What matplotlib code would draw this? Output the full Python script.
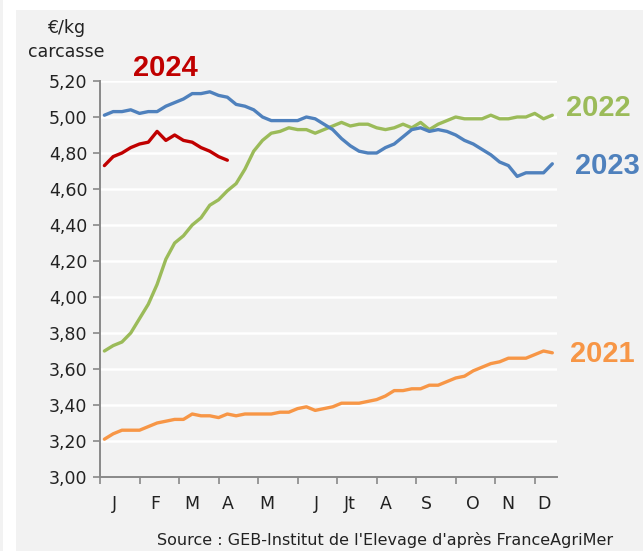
import matplotlib.pyplot as plt
from matplotlib.patches import Rectangle
import numpy as np

# weekly prices, euro/kg carcass
weeks = np.arange(1, 53)

price_2021 = [3.21, 3.24, 3.26, 3.26, 3.26, 3.28, 3.30, 3.31, 3.32, 3.32, 3.35, 3.34, 3.34,
              3.33, 3.35, 3.34, 3.35, 3.35, 3.35, 3.35, 3.36, 3.36, 3.38, 3.39, 3.37, 3.38,
              3.39, 3.41, 3.41, 3.41, 3.42, 3.43, 3.45, 3.48, 3.48, 3.49, 3.49, 3.51, 3.51,
              3.53, 3.55, 3.56, 3.59, 3.61, 3.63, 3.64, 3.66, 3.66, 3.66, 3.68, 3.70, 3.69]
price_2022 = [3.70, 3.73, 3.75, 3.80, 3.88, 3.96, 4.07, 4.21, 4.30, 4.34, 4.40, 4.44, 4.51,
              4.54, 4.59, 4.63, 4.71, 4.81, 4.87, 4.91, 4.92, 4.94, 4.93, 4.93, 4.91, 4.93,
              4.95, 4.97, 4.95, 4.96, 4.96, 4.94, 4.93, 4.94, 4.96, 4.94, 4.97, 4.93, 4.96,
              4.98, 5.00, 4.99, 4.99, 4.99, 5.01, 4.99, 4.99, 5.00, 5.00, 5.02, 4.99, 5.01]
price_2023 = [5.01, 5.03, 5.03, 5.04, 5.02, 5.03, 5.03, 5.06, 5.08, 5.10, 5.13, 5.13, 5.14,
              5.12, 5.11, 5.07, 5.06, 5.04, 5.00, 4.98, 4.98, 4.98, 4.98, 5.00, 4.99, 4.96,
              4.93, 4.88, 4.84, 4.81, 4.80, 4.80, 4.83, 4.85, 4.89, 4.93, 4.94, 4.92, 4.93,
              4.92, 4.90, 4.87, 4.85, 4.82, 4.79, 4.75, 4.73, 4.67, 4.69, 4.69, 4.69, 4.74]
price_2024 = [4.73, 4.78, 4.80, 4.83, 4.85, 4.86, 4.92, 4.87, 4.90, 4.87, 4.86, 4.83, 4.81,
              4.78, 4.76]

month_labels = ['J', 'F', 'M', 'A', 'M', 'J', 'Jt', 'A', 'S', 'O', 'N', 'D']
month_pos = [2.2, 6.8, 10.9, 15.0, 19.5, 25.1, 29.0, 33.0, 37.7, 42.9, 46.9, 51.0]
y_ticks = np.arange(3.0, 5.21, 0.2)

bg = '#F2F2F2'
fig = plt.figure(figsize=(6.43, 5.51), dpi=100)
fig.patch.set_facecolor('white')
# grey panel behind the chart
fig.patches.append(Rectangle((16 / 643, 0), 1, 1 - 10 / 551, transform=fig.transFigure,
                             facecolor=bg, edgecolor='none', zorder=-10))
fig.patches.append(Rectangle((0, 0), 3 / 643, 1, transform=fig.transFigure,
                             facecolor=bg, edgecolor='none', zorder=-10))

ax = fig.add_axes([100 / 643, 1 - 477 / 551, 456.7 / 643, 396 / 551])
ax.set_facecolor(bg)

ax.plot(weeks, price_2021, color='#F79646', lw=2.4, solid_capstyle='round', zorder=3)
ax.plot(weeks, price_2022, color='#9BBB59', lw=2.4, solid_capstyle='round', zorder=3)
ax.plot(weeks, price_2023, color='#4F81BD', lw=2.4, solid_capstyle='round', zorder=3)
ax.plot(weeks[:len(price_2024)], price_2024, color='#C00000', lw=2.4,
        solid_capstyle='round', zorder=4)

ax.set_xlim(0.5, 52.5)
ax.set_ylim(3.0, 5.2)
ax.set_yticks(y_ticks)
ax.set_yticklabels([f'{v:.2f}'.replace('.', ',') for v in y_ticks], fontsize=12.5,
                   color='#222222')
ax.yaxis.grid(True, color='white', lw=1.8)
ax.set_axisbelow(True)

ax.set_xticks(month_pos)
ax.set_xticklabels(month_labels, fontsize=12.5, color='#222222')
ax.tick_params(axis='x', length=0, pad=13)
ax.set_xticks(0.5 + np.arange(12) * 4.503, minor=True)
ax.tick_params(axis='x', which='minor', length=5, width=1.2, color='#898989')
ax.tick_params(axis='y', length=5, width=1.2, color='#898989', pad=4)

for side in ['top', 'right']:
    ax.spines[side].set_visible(False)
for side in ['left', 'bottom']:
    ax.spines[side].set_color('#898989')
    ax.spines[side].set_linewidth(1.4)

# axis unit
fig.text(66 / 643, 1 - 28 / 551, '€/kg', ha='center', va='center', fontsize=12.5,
         color='#222222')
fig.text(66 / 643, 1 - 52 / 551, 'carcasse', ha='center', va='center', fontsize=12.5,
         color='#222222')

# year labels
year_font = dict(family='Liberation Sans', fontweight='bold', fontsize=21,
                 ha='center', va='center')
fig.text(165 / 643, 1 - 68 / 551, '2024', color='#C00000', **year_font)
fig.text(598 / 643, 1 - 108 / 551, '2022', color='#9BBB59', **year_font)
fig.text(607 / 643, 1 - 166 / 551, '2023', color='#4F81BD', **year_font)
fig.text(602 / 643, 1 - 354 / 551, '2021', color='#F79646', **year_font)

fig.text(613 / 643, 1 - 540 / 551, "Source : GEB-Institut de l'Elevage d'après FranceAgriMer",
         ha='right', va='center', fontsize=11.5, color='#222222')

plt.savefig('out.png', dpi=100)
